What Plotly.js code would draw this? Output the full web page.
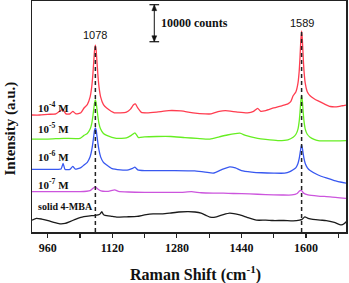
<!DOCTYPE html>
<html>
<head>
<meta charset="utf-8">
<script src="https://cdn.plot.ly/plotly-3.0.1.min.js"></script>
<style>html,body{margin:0;padding:0;background:#fff;}#chart{width:349px;height:283px;}</style>
</head>
<body>
<div id="chart"></div>
<script>
// Raman shift (cm^-1) and intensity (kilocounts, offset stacked) for each spectrum
const xRed = [921,940,960,980,997,1005,1015,1022,1030,1042,1050,1058,1065,1069,1072,1074,1076,1078,1080,1082,1084,1087,1091,1098,1106,1125,1140,1155,1165,1172,1177,1183,1192,1205,1230,1260,1290,1320,1350,1365,1385,1400,1430,1455,1470,1480,1488,1500,1520,1540,1555,1562,1568,1575,1580,1583,1585,1587,1589,1591,1593,1595,1598,1603,1610,1620,1630,1645,1660,1675,1690,1699];
const yRed = [31.6,31.6,31.8,31.9,33.1,31.9,31.9,32.6,31.9,32.2,33.5,34.4,36.5,39.2,42.8,46.0,49.1,50.5,49.1,46.0,42.8,39.2,36.5,34.4,33.5,32.2,32.2,32.4,33.2,34.3,34.6,33.5,32.3,32.2,32.4,32.8,32.7,32.2,31.9,31.9,32.6,32.8,32.4,32.2,32.6,33.4,32.6,32.8,33.5,34.1,34.6,35.2,36.8,37.9,40.2,43.4,47.1,51.7,54.3,51.7,47.1,43.4,40.2,37.9,36.8,36.0,35.4,34.6,33.9,33.8,34.1,34.3];

const xGreen = [921,960,1000,1040,1050,1058,1065,1069,1072,1074,1076,1078,1080,1082,1084,1087,1091,1098,1106,1130,1155,1167,1176,1185,1200,1230,1265,1300,1330,1362,1385,1405,1436,1450,1480,1500,1530,1555,1568,1575,1580,1583,1585,1587,1589,1591,1593,1595,1598,1603,1610,1620,1630,1660,1699];
const yGreen = [25.1,25.1,25.3,25.3,26.1,26.6,27.8,29.3,31.4,33.2,34.9,35.7,34.9,33.2,31.4,29.3,27.8,26.6,26.1,25.3,25.4,26.1,26.8,25.5,25.7,25.8,25.8,25.5,25.3,25.1,25.7,26.2,26.7,26.1,25.3,25.0,24.7,24.9,25.6,26.4,27.8,29.9,32.3,35.3,37.0,35.3,32.3,29.9,27.8,26.4,25.6,25.0,24.7,24.6,24.7];

const xBlue = [921,960,985,993,998,1003,1015,1022,1028,1042,1050,1058,1065,1069,1072,1074,1076,1078,1080,1082,1084,1087,1091,1098,1106,1118,1140,1160,1170,1176,1183,1200,1240,1275,1324,1350,1370,1390,1411,1425,1440,1465,1490,1520,1547,1560,1568,1575,1580,1583,1585,1587,1589,1591,1593,1595,1598,1603,1610,1630,1650,1670,1699];
const yBlue = [16.9,16.9,16.9,17.0,18.5,16.9,16.9,17.7,17.0,17.4,18.1,18.8,20.3,22.1,24.2,25.9,27.5,28.1,27.5,25.9,24.2,22.1,20.3,18.8,18.1,17.2,16.8,16.8,17.2,17.5,16.8,16.6,16.6,16.6,16.5,16.2,15.9,16.8,17.6,17.3,16.6,16.2,16.0,15.9,15.9,16.3,16.8,17.4,18.5,19.8,21.1,22.6,23.5,22.6,21.1,19.8,18.5,17.4,16.6,15.4,14.6,13.9,13.2];

const xMagenta = [921,960,1000,1040,1065,1072,1078,1084,1092,1110,1126,1135,1160,1200,1250,1290,1316,1340,1370,1395,1420,1460,1500,1540,1565,1578,1584,1589,1594,1605,1630,1660,1699];
const yMagenta = [10.9,10.9,10.9,10.9,11.2,11.8,12.2,11.6,11.1,11.0,11.4,11.0,10.8,10.7,10.7,10.7,10.9,10.6,10.5,10.5,10.4,10.3,10.1,10.0,10.0,10.4,11.1,11.2,10.5,10.0,9.7,9.5,9.1];

const xBlack = [921,932,945,961,975,990,1003,1015,1028,1040,1055,1069,1085,1090,1094,1098,1102,1120,1131,1155,1181,1200,1221,1245,1263,1285,1308,1325,1340,1352,1362,1378,1395,1411,1436,1455,1477,1500,1518,1545,1568,1584,1590,1597,1605,1617,1635,1650,1670,1687,1695,1699];
const yBlack = [3.2,3.7,3.5,3.1,2.6,2.2,2.3,2.8,3.4,3.9,4.2,4.4,4.6,4.9,5.5,4.7,4.5,4.2,4.0,4.1,4.2,4.6,4.9,4.9,5.1,5.4,5.5,5.4,5.1,4.5,4.0,4.1,4.7,5.1,4.6,3.9,3.2,3.2,3.1,3.1,3.0,3.2,3.4,4.1,3.7,3.4,3.2,3.1,2.6,1.9,2.3,2.8];

const seriesNames = ['10<sup>-4</sup> M','10<sup>-5</sup> M','10<sup>-6</sup> M','10<sup>-7</sup> M','solid 4-MBA'];
const seriesLabelY = [33.9, 28.0, 20.5, 13.0, 7.0];
const peakPositions = [1078, 1589];
const peakLabelY = [53.3, 56.4];
const peakLineTop = [50.2, 54.6];
const scaleBarCounts = 10; // kilocounts = 10000 counts
const scaleBarLabel = '10000 counts';
const xTicks = [960, 1120, 1280, 1440, 1600];
const xTitle = 'Raman Shift (cm<sup>-1</sup>)';
const yTitle = 'Intensity (a.u.)';

const serif = 'Liberation Serif, Times New Roman, serif';
const sans = 'Liberation Sans, Arial, sans-serif';
const colors = ['#ff3d50','#66ee22','#3858f0','#cc55dd','#1a1a1a'];
const xs = [xRed, xGreen, xBlue, xMagenta, xBlack];
const ys = [yRed, yGreen, yBlue, yMagenta, yBlack];

const traces = xs.map((x, i) => ({
  x: x, y: ys[i], type: 'scatter', mode: 'lines',
  name: seriesNames[i].replace(/<\/?sup>/g, ''),
  line: {color: colors[i], width: 1.3, shape: 'spline', smoothing: 0.5},
  hoverinfo: 'skip'
}));

const shapes = peakPositions.map((p, i) => ({
  type: 'line', xref: 'x', yref: 'y', x0: p, x1: p, y0: 0, y1: peakLineTop[i],
  line: {color: '#222', width: 1.5, dash: '4px,3px'}, layer: 'above'
}));

// scale bar (double arrow with end caps)
const sbX = 1224, sbY0 = 51.4, sbY1 = sbY0 + scaleBarCounts;
const capHalf = 12, headHalf = 6, headLen = 1.6;
shapes.push({type: 'line', xref: 'x', yref: 'y', x0: sbX, x1: sbX, y0: sbY0, y1: sbY1, line: {color: '#111', width: 1}});
shapes.push({type: 'line', xref: 'x', yref: 'y', x0: sbX - capHalf, x1: sbX + capHalf, y0: sbY1, y1: sbY1, line: {color: '#111', width: 1.2}});
shapes.push({type: 'line', xref: 'x', yref: 'y', x0: sbX - capHalf, x1: sbX + capHalf, y0: sbY0, y1: sbY0, line: {color: '#111', width: 1.2}});
shapes.push({type: 'path', xref: 'x', yref: 'y', fillcolor: '#111', line: {color: '#111', width: 0.5},
  path: `M ${sbX - headHalf},${sbY1 - headLen} L ${sbX},${sbY1} L ${sbX + headHalf},${sbY1 - headLen} Z`});
shapes.push({type: 'path', xref: 'x', yref: 'y', fillcolor: '#111', line: {color: '#111', width: 0.5},
  path: `M ${sbX - headHalf},${sbY0 + headLen} L ${sbX},${sbY0} L ${sbX + headHalf},${sbY0 + headLen} Z`});

const annotations = [];
seriesNames.forEach((n, i) => {
  annotations.push({
    x: 932, y: seriesLabelY[i], xref: 'x', yref: 'y', xanchor: 'left', yanchor: 'middle',
    text: '<b>' + n + '</b>', showarrow: false,
    font: {family: serif, size: i === 4 ? 10 : 11, color: '#111'}
  });
});
peakPositions.forEach((p, i) => {
  annotations.push({
    x: p, y: peakLabelY[i], xref: 'x', yref: 'y', text: String(p), showarrow: false,
    font: {family: sans, size: 11, color: '#111'}
  });
});
annotations.push({
  x: sbX + 12, y: 56.5, xref: 'x', yref: 'y', xanchor: 'left', yanchor: 'middle',
  text: '<b>' + scaleBarLabel + '</b>', showarrow: false,
  font: {family: serif, size: 12, color: '#111'}
});
// axis titles placed as in the reference
annotations.push({
  x: 0.522, y: -0.1775, xref: 'paper', yref: 'paper', xanchor: 'center', yanchor: 'middle',
  text: '<b>' + xTitle + '</b>', showarrow: false,
  font: {family: serif, size: 16, color: '#111'}
});
annotations.push({
  x: -0.067, y: 0.448, xref: 'paper', yref: 'paper', xanchor: 'center', yanchor: 'middle',
  text: '<b>' + yTitle + '</b>', showarrow: false, textangle: -90,
  font: {family: serif, size: 15, color: '#111'}
});

const layout = {
  width: 349, height: 283,
  margin: {l: 32, r: 3, t: 1, b: 51, pad: 0},
  paper_bgcolor: '#fff', plot_bgcolor: '#fff',
  showlegend: false,
  xaxis: {
    range: [921, 1699], tickvals: xTicks, ticktext: xTicks.map(String),
    showline: true, mirror: true, linecolor: '#222', linewidth: 1.5,
    ticks: 'outside', ticklen: 4, tickwidth: 1.2, tickcolor: '#222',
    minor: {dtick: 80, tick0: 960, ticks: 'outside', ticklen: 4, tickwidth: 1.2, tickcolor: '#222', showgrid: false},
    showgrid: false, zeroline: false,
    tickfont: {family: serif, size: 12, color: '#111', weight: 'bold'}
  },
  yaxis: {
    range: [0, 62.4], showline: true, mirror: true, linecolor: '#222', linewidth: 1.5,
    showticklabels: false, ticks: '', showgrid: false, zeroline: false
  },
  shapes: shapes,
  annotations: annotations
};

Plotly.newPlot('chart', traces, layout, {displayModeBar: false, staticPlot: true});
</script>
</body>
</html>
